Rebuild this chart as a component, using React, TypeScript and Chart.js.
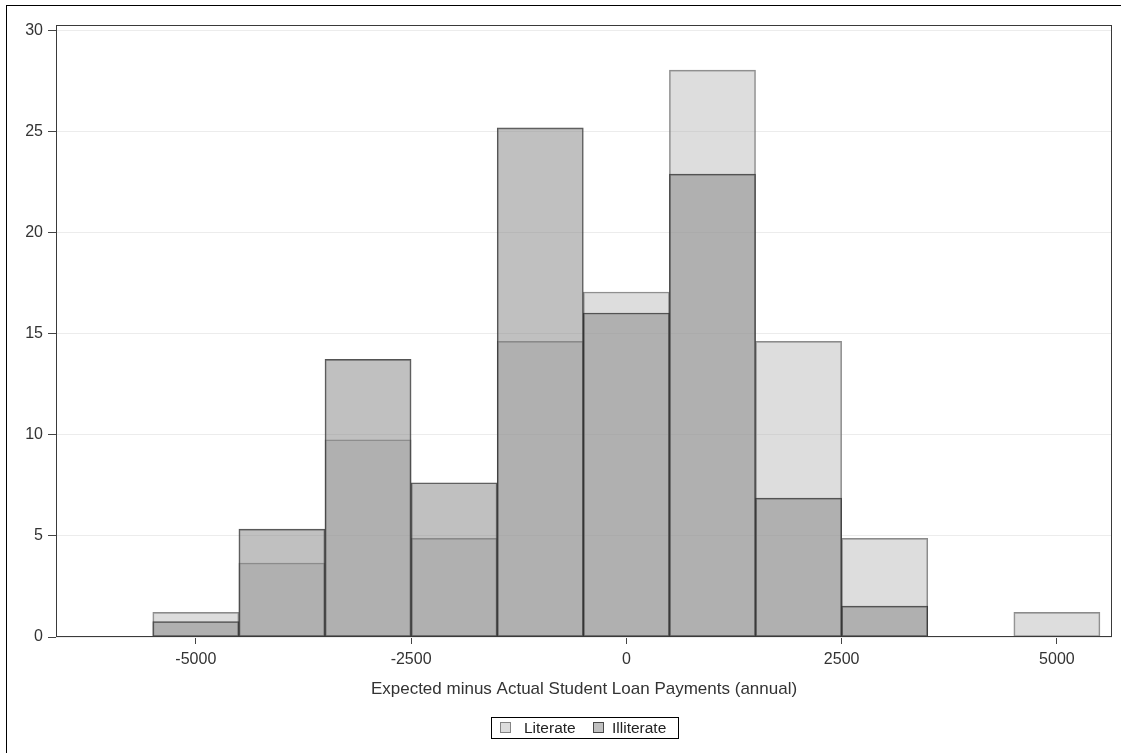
import React, { useEffect, useRef } from "react";
import { Chart, registerables } from "chart.js";

Chart.register(...registerables);

// Histogram bins (centers of 1000-wide bins)
const binCenters = [-6000, -5000, -4000, -3000, -2000, -1000, 0, 1000, 2000, 3000, 4000, 5000];
// Percent of each group per bin
const literatePct = [0, 1.22, 3.66, 9.76, 4.88, 14.63, 17.07, 28.05, 14.63, 4.88, 0, 1.22];
const illiteratePct = [0, 0.76, 5.34, 13.74, 7.63, 25.19, 16.03, 22.9, 6.87, 1.53, 0, 0];
const seriesNames = ["Literate", "Illiterate"];
const xTicks = [-5000, -2500, 0, 2500, 5000];
const yTicks = [0, 5, 10, 15, 20, 25, 30];
const xTitle = "Expected minus Actual Student Loan Payments (annual)";

const FONT = "'Liberation Sans', Arial, Helvetica, sans-serif";

export default function App() {
  const ref = useRef<HTMLCanvasElement>(null);

  useEffect(() => {
    const canvas = ref.current;
    if (!canvas) return;

    const decor = {
      id: "decor",
      beforeDraw(chart: any) {
        const ctx = chart.ctx;
        ctx.save();
        ctx.fillStyle = "#ffffff";
        ctx.fillRect(0, 0, chart.width, chart.height);
        ctx.restore();
      },
      afterDatasetsDraw(chart: any) {
        const { ctx, chartArea } = chart;
        ctx.save();
        ctx.strokeStyle = "#3a3a3a";
        ctx.lineWidth = 1;
        ctx.strokeRect(
          Math.round(chartArea.left) + 0.5,
          Math.round(chartArea.top) + 0.5,
          Math.round(chartArea.right - chartArea.left) - 1,
          Math.round(chartArea.bottom - chartArea.top) - 1
        );
        ctx.restore();
      },
      afterDraw(chart: any) {
        const { ctx, chartArea } = chart;
        ctx.save();
        // outer frame (top and left edges visible)
        ctx.fillStyle = "#000000";
        ctx.fillRect(6, 5, chart.width - 6, 1);
        ctx.fillRect(6, 5, 1, chart.height - 5);

        // legend with a border box
        const cx = (chartArea.left + chartArea.right) / 2;
        const boxW = 187;
        const boxH = 21;
        const left = Math.round(cx - boxW / 2);
        const top = 717;
        ctx.strokeStyle = "#000000";
        ctx.lineWidth = 1;
        ctx.strokeRect(left + 0.5, top + 0.5, boxW, boxH);
        const ds = chart.data.datasets;
        const swatchX = [left + 9, left + 102];
        const textX = [left + 33, left + 121];
        ctx.font = `15.5px ${FONT}`;
        ctx.textBaseline = "middle";
        ctx.textAlign = "left";
        for (let i = 0; i < ds.length; i++) {
          const sx = swatchX[i];
          const sy = top + 5;
          ctx.fillStyle = "#ffffff";
          ctx.fillRect(sx, sy, 11, 11);
          ctx.fillStyle = ds[i].backgroundColor;
          ctx.fillRect(sx, sy, 11, 11);
          ctx.strokeStyle = ds[i].borderColor;
          ctx.strokeRect(sx + 0.5, sy + 0.5, 10, 10);
          ctx.fillStyle = "#222222";
          ctx.fillText(ds[i].label, textX[i], top + boxH / 2 + 1);
        }
        ctx.restore();
      },
    };

    const chart = new Chart(canvas, {
      type: "bar",
      data: {
        datasets: [
          {
            label: seriesNames[0],
            data: binCenters.map((x, i) => ({ x, y: literatePct[i] })),
            backgroundColor: "rgba(180,180,180,0.45)",
            borderColor: "rgba(110,110,110,0.8)",
            borderWidth: 1,
            borderSkipped: false,
            grouped: false,
            barPercentage: 1,
            categoryPercentage: 1,
            order: 2,
          },
          {
            label: seriesNames[1],
            data: binCenters.map((x, i) => ({ x, y: illiteratePct[i] })),
            backgroundColor: "rgba(136,136,136,0.53)",
            borderColor: "rgba(40,40,40,0.8)",
            borderWidth: 1,
            borderSkipped: false,
            grouped: false,
            barPercentage: 1,
            categoryPercentage: 1,
            order: 1,
          },
        ] as any,
      },
      options: {
        animation: false,
        responsive: false,
        maintainAspectRatio: false,
        devicePixelRatio: 1,
        layout: { padding: { left: 0, top: 25, right: 9, bottom: 0 } },
        plugins: {
          legend: { display: false },
          tooltip: { enabled: false },
        },
        scales: {
          x: {
            type: "linear",
            offset: false,
            min: -6624,
            max: 5640,
            afterBuildTicks: (s: any) => {
              s.ticks = xTicks.map((v) => ({ value: v }));
            },
            afterFit: (s: any) => {
              s.height = 116;
            },
            grid: {
              display: true,
              offset: false,
              drawOnChartArea: false,
              drawTicks: true,
              tickLength: 7,
              tickColor: "#444444",
              tickWidth: 1,
            },
            border: { display: false },
            ticks: {
              font: { family: FONT, size: 16 },
              color: "#333333",
              padding: 6,
              maxRotation: 0,
              autoSkip: false,
              callback: (v: any) => String(v),
            },
            title: {
              display: true,
              text: xTitle,
              font: { family: FONT, size: 17 },
              color: "#333333",
              padding: { top: 0, bottom: 53 },
            },
          },
          y: {
            type: "linear",
            min: 0,
            max: 30.28,
            afterBuildTicks: (s: any) => {
              s.ticks = yTicks.map((v) => ({ value: v }));
            },
            afterFit: (s: any) => {
              s.width = 56;
            },
            grid: {
              color: "#ececec",
              lineWidth: 1,
              drawTicks: true,
              tickLength: 8,
              tickColor: "#444444",
              tickWidth: 1,
            },
            border: { display: false },
            ticks: {
              font: { family: FONT, size: 16 },
              color: "#333333",
              padding: 5,
              callback: (v: any) => String(v),
            },
          },
        },
      } as any,
      plugins: [decor],
    });

    return () => chart.destroy();
  }, []);

  return (
    <div style={{ position: "fixed", left: 0, top: 0, width: 1121, height: 753, background: "#fff" }}>
      <canvas ref={ref} width={1121} height={753} style={{ display: "block", width: 1121, height: 753 }} />
    </div>
  );
}
